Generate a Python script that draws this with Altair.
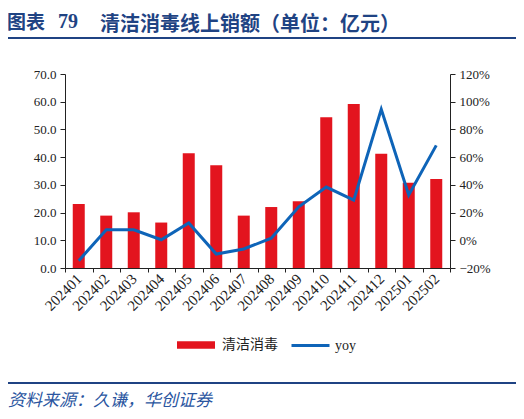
import altair as alt
import pandas as pd

months = ["202401", "202402", "202403", "202404", "202405", "202406", "202407",
          "202408", "202409", "202410", "202411", "202412", "202501", "202502"]
sales = [23.1, 18.9, 20.1, 16.4, 41.4, 37.1, 18.9, 22.0, 24.1, 54.4, 59.2, 41.2, 30.8, 32.1]
yoy = [-0.147, 0.076, 0.076, 0.004, 0.125, -0.099, -0.063, 0.015, 0.242, 0.384, 0.29, 0.945, 0.327, 0.685]

title_a = "图表"
title_n = "79"
title_b = "清洁消毒线上销额（单位：亿元）"
source = "资料来源：久谦，华创证券"

RED = "#E3141E"
BLUE = "#0E64B8"
NAVY = "#1F4383"
SERIF = "Liberation Serif"
CJK = "Noto Sans CJK SC"

data = pd.DataFrame({"month": months, "sales": sales, "yoy": yoy})

x = alt.X("month:N", title=None, sort=months,
          scale=alt.Scale(paddingInner=0, paddingOuter=0),
          axis=alt.Axis(labelAngle=-45, labelAlign="right", labelBaseline="middle",
                        tickBand="extent", tickSize=4, labelPadding=4,
                        labelFont=SERIF, labelFontSize=15, labelColor="#222",
                        domainColor="#222", tickColor="#222"))

bars = alt.Chart(data).transform_calculate(series="'清洁消毒'").mark_bar(size=12).encode(
    x=x,
    y=alt.Y("sales:Q", title=None, scale=alt.Scale(domain=[0, 70]),
            axis=alt.Axis(values=list(range(0, 71, 10)), format=".1f", grid=False,
                          tickSize=5, labelPadding=4, labelFont=SERIF, labelFontSize=13,
                          labelColor="#222", domainColor="#222", tickColor="#222")),
    fill=alt.Fill("series:N", scale=alt.Scale(range=[RED]),
                  legend=alt.Legend(title=None, orient="none", legendX=111, legendY=251,
                                    symbolType="M-1,-0.2H1V0.2H-1Z", symbolSize=1444,
                                    labelFont=CJK, labelFontSize=14, labelColor="#222",
                                    labelOffset=6, padding=0)),
)

line = alt.Chart(data).transform_calculate(series="'yoy'").mark_line(strokeWidth=3).encode(
    x=x,
    y=alt.Y("yoy:Q", title=None, scale=alt.Scale(domain=[-0.2, 1.2]),
            axis=alt.Axis(orient="right", values=[-0.2, 0, 0.2, 0.4, 0.6, 0.8, 1.0, 1.2],
                          format=".0%", grid=False, tickSize=5, labelPadding=4,
                          labelFont=SERIF, labelFontSize=13, labelColor="#222",
                          domainColor="#222", tickColor="#222")),
    stroke=alt.Stroke("series:N", scale=alt.Scale(range=[BLUE]),
                      legend=alt.Legend(title=None, orient="none", legendX=225, legendY=251,
                                        symbolType="stroke", symbolSize=1444, symbolStrokeWidth=3,
                                        labelFont=SERIF, labelFontSize=14, labelColor="#222",
                                        labelOffset=4, padding=0)),
)

one = pd.DataFrame({"k": [0]})

head_a = alt.Chart(one).mark_text(align="left", baseline="middle", font=CJK, fontSize=19,
                                  fontWeight="bold", color=NAVY).encode(
    x=alt.value(-58), y=alt.value(-51), text=alt.value(title_a))
head_n = alt.Chart(one).mark_text(align="left", baseline="middle", font=SERIF, fontSize=20,
                                  fontWeight="bold", color=NAVY).encode(
    x=alt.value(-7), y=alt.value(-52), text=alt.value(title_n))
head_b = alt.Chart(one).mark_text(align="left", baseline="middle", font=CJK, fontSize=20,
                                  fontWeight="bold", color=NAVY).encode(
    x=alt.value(35), y=alt.value(-49.5), text=alt.value(title_b))
top_rule = alt.Chart(one).mark_rule(color=NAVY, strokeWidth=2).encode(
    x=alt.value(-60), x2=alt.value(452), y=alt.value(-36))
bottom_rule = alt.Chart(one).mark_rule(color=NAVY, strokeWidth=2).encode(
    x=alt.value(-60), x2=alt.value(452), y=alt.value(309))
foot = alt.Chart(one).mark_text(align="left", baseline="middle", font=CJK, fontSize=17,
                                fontStyle="italic", color="#2A55A0").encode(
    x=alt.value(-57), y=alt.value(327), text=alt.value(source))

chart = alt.layer(bars, line, head_a, head_n, head_b, top_rule, bottom_rule, foot).resolve_scale(
    y="independent", fill="independent", stroke="independent"
).properties(
    width=385, height=194,
    autosize=alt.AutoSizeParams(type="none"),
    padding={"left": 57, "top": 66, "right": 66, "bottom": 143},
).configure_view(stroke=None)

chart.save("out.html", embed_options={"renderer": "svg", "actions": False})
